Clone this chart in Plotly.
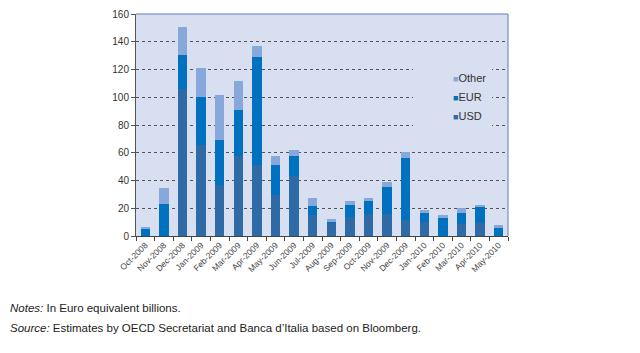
import plotly.graph_objects as go

months = ["Oct-2008", "Nov-2008", "Dec-2008", "Jan-2009", "Feb-2009", "Mar-2009", "Apr-2009",
          "May-2009", "Jun-2009", "Jul-2009", "Aug-2009", "Sep-2009", "Oct-2009", "Nov-2009",
          "Dec-2009", "Jan-2010", "Feb-2010", "Mar-2010", "Apr-2010", "May-2010"]
usd = [0, 0, 106, 65.7, 37, 58, 51, 29.5, 43.3, 15, 9.8, 13.7, 16.1, 16.1, 11.8, 10.3, 0, 8.4, 9.6, 0]
eur = [5.3, 23, 24.5, 34.3, 32, 33, 78.3, 21.5, 14.2, 6.3, 0.6, 8.6, 9.1, 18.9, 44.3, 6.5, 12.7, 8.1, 11.7, 5.8]
other = [0.6, 11.5, 20.1, 21.3, 32.7, 20.8, 7.4, 6.5, 4.5, 5.8, 1.6, 2.6, 1.9, 3.8, 4.6, 1.9, 2.4, 3.6, 1.2, 1.9]

series = [("USD", usd, "#2e6aa6"), ("EUR", eur, "#0070c0"), ("Other", other, "#86a8da")]
bg = "#d7dff0"

fig = go.Figure()
for name, vals, col in series:
    fig.add_trace(go.Bar(name=name, x=months, y=vals, marker=dict(color=col, line=dict(width=0)),
                         showlegend=False))
# legend entries: tiny square glyph right next to the label, as in the original
for name, vals, col in series:
    fig.add_trace(go.Scatter(name=f"<span style='color:{col};font-size:9px'>\u25a0</span>{name}",
                             x=[None], y=[None], mode="markers",
                             marker=dict(symbol="square", size=1, color="rgba(0,0,0,0)",
                                         line=dict(width=0))))

# page body has an 8px margin, so the figure is sized to fit the window
fig.update_layout(
    barmode="stack",
    bargap=0.5,
    width=632, height=345,
    margin=dict(l=128, r=132, t=6, b=117, autoexpand=False),
    paper_bgcolor="white",
    plot_bgcolor=bg,
    font=dict(family="Liberation Sans, Arial, sans-serif", color="#333333"),
    showlegend=True,
    legend=dict(x=277 / 372, y=(237 - 64) / 222, xanchor="left", yanchor="top",
                bgcolor=bg, traceorder="reversed",
                font=dict(size=11, color="#333333"),
                itemwidth=30, tracegroupgap=0, borderwidth=0),
)

fig.update_xaxes(
    tickangle=-45, tickfont=dict(size=8.5, color="#444444"),
    showline=True, linecolor="#444444", linewidth=1,
    ticks="outside", ticklen=4, tickcolor="#444444", tickson="boundaries",
    showgrid=False, automargin=False,
)
fig.update_yaxes(
    range=[0, 160], dtick=20, tickfont=dict(size=10, color="#333333"),
    showline=True, linecolor="#555555", linewidth=1,
    ticks="outside", ticklen=4, tickcolor="#555555",
    showgrid=True, gridcolor="#555555", griddash="dot", gridwidth=1,
    zeroline=False, automargin=False,
)

# top and right frame lines
fig.add_shape(type="line", xref="x domain", yref="y domain", x0=0, x1=1, y0=1, y1=1,
              line=dict(color="#5b7fb5", width=1))
fig.add_shape(type="line", xref="x domain", yref="y domain", x0=1, x1=1, y0=0, y1=1,
              line=dict(color="#5b7fb5", width=1))

fig.add_annotation(text="<i>Notes:</i> In Euro equivalent billions.", xref="paper", yref="paper",
                   x=-128 / 372, y=-72 / 222, xanchor="left", yanchor="middle",
                   showarrow=False, font=dict(size=11.5, color="#222222"))
fig.add_annotation(text="<i>Source:</i> Estimates by OECD Secretariat and Banca d\u2019Italia based on Bloomberg.",
                   xref="paper", yref="paper",
                   x=-128 / 372, y=-92 / 222, xanchor="left", yanchor="middle",
                   showarrow=False, font=dict(size=11.5, color="#222222"))

fig.write_html("out.html")
